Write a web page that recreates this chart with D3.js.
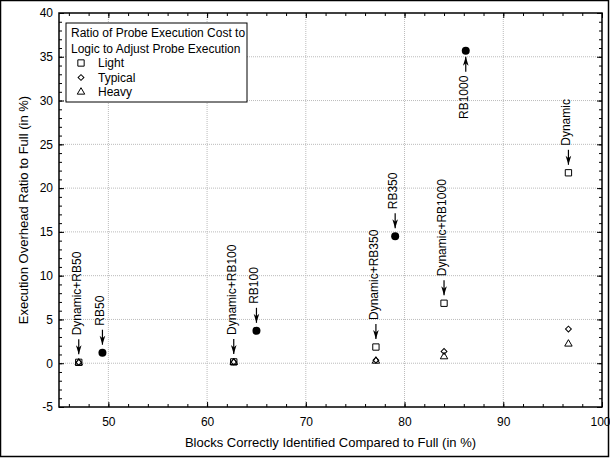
<!DOCTYPE html>
<html>
<head>
<meta charset="utf-8">
<script src="https://cdn.jsdelivr.net/npm/d3@7"></script>
<style>
  body { margin: 0; background: #fff; }
  svg text { font-family: "Liberation Sans", Arial, sans-serif; fill: #000; }
</style>
</head>
<body>
<div id="chart"></div>
<script>
// configurations with dynamic probing (three cost ratios each)
var dynLabels = ["Dynamic+RB50", "Dynamic+RB100", "Dynamic+RB350", "Dynamic+RB1000", "Dynamic"];
var dynBlocks = [47.0, 62.7, 77.1, 84.0, 96.6];
var lightCost = [0.1, 0.15, 1.85, 6.85, 21.75];
var typicalCost = [0.1, 0.15, 0.35, 1.35, 3.9];
var heavyCost = [0.05, 0.1, 0.25, 0.75, 2.2];

// plain random-block configurations
var rbLabels = ["RB50", "RB100", "RB350", "RB1000"];
var rbBlocks = [49.4, 65.0, 79.05, 86.2];
var rbCost = [1.2, 3.7, 14.5, 35.7];

var legendTitle = ["Ratio of Probe Execution Cost to", "Logic to Adjust Probe Execution"];
var legendItems = ["Light", "Typical", "Heavy"];

var xMajor = [50, 60, 70, 80, 90, 100];
var yMajor = [-5, 0, 5, 10, 15, 20, 25, 30, 35, 40];

var W = 610, H = 459;
var margin = {top: 13, right: 8, bottom: 52, left: 59};

var x = d3.scaleLinear().domain([45, 100]).range([margin.left, W - margin.right]);
var y = d3.scaleLinear().domain([-5, 40]).range([H - margin.bottom, margin.top]);

var svg = d3.select("#chart").append("svg")
    .attr("width", W)
    .attr("height", H);

// outer frame
svg.append("rect")
    .attr("x", 0.5).attr("y", 0.5)
    .attr("width", W - 2).attr("height", H - 3)
    .attr("fill", "none").attr("stroke", "#000").attr("stroke-width", 1.5);

// gridlines
var grid = svg.append("g").attr("stroke", "#bbb").attr("stroke-dasharray", "1,1");
grid.selectAll(".gx").data(xMajor.filter(function(d) { return d < 100; }))
    .enter().append("line")
    .attr("x1", function(d) { return x(d); }).attr("x2", function(d) { return x(d); })
    .attr("y1", y.range()[1]).attr("y2", y.range()[0]);
grid.selectAll(".gy").data(yMajor.filter(function(d) { return d > -5 && d < 40; }))
    .enter().append("line")
    .attr("y1", function(d) { return y(d); }).attr("y2", function(d) { return y(d); })
    .attr("x1", x.range()[0]).attr("x2", x.range()[1]);

//
// Axes, ticks pointing inward
//
var xMinor = d3.range(46, 100.1, 2);
var yMinor = d3.range(-5, 40.1, 1);
var bottomY = y.range()[0], topY = y.range()[1];
var leftX = x.range()[0], rightX = x.range()[1];

function minor(axis) { return axis.tickSize(-3).tickFormat(""); }
function plain(d) { return String(d); }   // keep hyphen minus like the original

svg.append("g").attr("transform", "translate(0," + bottomY + ")")
    .call(minor(d3.axisBottom(x).tickValues(xMinor)));
svg.append("g").attr("transform", "translate(0," + topY + ")")
    .call(minor(d3.axisTop(x).tickValues(xMinor)));
svg.append("g").attr("transform", "translate(" + leftX + ",0)")
    .call(minor(d3.axisLeft(y).tickValues(yMinor)));
svg.append("g").attr("transform", "translate(" + rightX + ",0)")
    .call(minor(d3.axisRight(y).tickValues(yMinor)));

var xAxis = svg.append("g").attr("class", "axis")
    .attr("transform", "translate(0," + bottomY + ")")
    .call(d3.axisBottom(x).tickValues(xMajor).tickSize(-5).tickPadding(10).tickFormat(plain));
svg.append("g").attr("class", "axis")
    .attr("transform", "translate(" + leftX + ",0)")
    .call(d3.axisLeft(y).tickValues(yMajor).tickSize(-5).tickPadding(6).tickFormat(plain));
svg.append("g")
    .attr("transform", "translate(0," + topY + ")")
    .call(d3.axisTop(x).tickValues(xMajor).tickSize(-5).tickFormat(""));
svg.append("g")
    .attr("transform", "translate(" + rightX + ",0)")
    .call(d3.axisRight(y).tickValues(yMajor).tickSize(-5).tickFormat(""));

svg.selectAll(".domain").remove();
svg.selectAll(".tick line").attr("stroke", "#000");
svg.selectAll(".axis text").style("font-size", "12px")
    .style("font-family", "Liberation Sans, Arial, sans-serif");
// last label sits at the right edge, pull it in a touch
xAxis.selectAll(".tick text").filter(function(d) { return d === 100; })
    .attr("text-anchor", "end").attr("x", 8);

// plot box
svg.append("rect")
    .attr("x", leftX).attr("y", topY)
    .attr("width", rightX - leftX).attr("height", bottomY - topY)
    .attr("fill", "none").attr("stroke", "#000").attr("stroke-width", 1.5);

// axis titles
svg.append("text")
    .attr("x", (leftX + rightX) / 2).attr("y", 447)
    .attr("text-anchor", "middle").style("font-size", "13px")
    .text("Blocks Correctly Identified Compared to Full (in %)");
svg.append("text")
    .attr("transform", "translate(28," + ((topY + bottomY) / 2) + ") rotate(-90)")
    .attr("text-anchor", "middle").style("font-size", "13px")
    .text("Execution Overhead Ratio to Full (in %)");

//
// Markers (hollow, so overlapping ones stay visible)
//
var sym = {
    square: { d: d3.symbol().type(d3.symbolSquare).size(40)(), rot: 0 },
    diamond: { d: d3.symbol().type(d3.symbolSquare).size(17)(), rot: 45 },
    triangle: { d: d3.symbol().type(d3.symbolTriangle).size(24)(), rot: 0 }
};

function place(px, py, shape) {
    return "translate(" + px + "," + py + ") rotate(" + sym[shape].rot + ")";
}

function drawSeries(values, shape) {
    svg.append("g").selectAll("path")
        .data(values)
        .enter().append("path")
        .attr("transform", function(d, i) { return place(x(dynBlocks[i]), y(d), shape); })
        .attr("d", sym[shape].d)
        .attr("fill", "none")
        .attr("stroke", "#000")
        .attr("stroke-width", 1);
}
drawSeries(heavyCost, "triangle");
drawSeries(typicalCost, "diamond");
drawSeries(lightCost, "square");

svg.append("g").selectAll("circle")
    .data(rbCost)
    .enter().append("circle")
    .attr("cx", function(d, i) { return x(rbBlocks[i]); })
    .attr("cy", function(d) { return y(d); })
    .attr("r", 4)
    .attr("fill", "#000");

//
// Annotations: label + arrow pointing at the point
//
function annotate(label, px, py, up) {
    var dir = up ? 1 : -1;       // +1 means arrow sits below the point
    var tip = py + dir * (up ? 6 : 8);
    var tail = tip + dir * 15;
    var g = svg.append("g");
    g.append("line")
        .attr("x1", px).attr("x2", px)
        .attr("y1", tip).attr("y2", tail)
        .attr("stroke", "#000").attr("stroke-width", 1.2);
    g.append("path")
        .attr("d", "M" + px + "," + tip +
              "L" + (px - 2.8) + "," + (tip + dir * 9) +
              "L" + px + "," + (tip + dir * 6.5) +
              "L" + (px + 2.8) + "," + (tip + dir * 9) + "Z")
        .attr("fill", "#000");
    g.append("text")
        .attr("transform", "translate(" + (px + 2) + "," + (tail + dir * 4) + ") rotate(-90)")
        .attr("text-anchor", up ? "end" : "start")
        .style("font-size", "12px")
        .text(label);
}

dynLabels.forEach(function(l, i) {
    annotate(l, x(dynBlocks[i]), y(lightCost[i]), false);
});
rbLabels.forEach(function(l, i) {
    annotate(l, x(rbBlocks[i]), y(rbCost[i]), rbCost[i] > 30);
});

//
// Legend
//
var lg = svg.append("g").attr("transform", "translate(66,23)");
lg.append("rect")
    .attr("width", 181).attr("height", 79)
    .attr("fill", "#fff").attr("stroke", "#000").attr("stroke-width", 1);
legendTitle.forEach(function(t, i) {
    lg.append("text").attr("x", 5).attr("y", 14 + i * 15.5)
        .style("font-size", "12px").text(t);
});
var shapes = ["square", "diamond", "triangle"];
legendItems.forEach(function(t, i) {
    var cy = 40 + i * 14.5;
    lg.append("path")
        .attr("transform", place(15, cy, shapes[i]))
        .attr("d", sym[shapes[i]].d)
        .attr("fill", "none").attr("stroke", "#000");
    lg.append("text").attr("x", 32).attr("y", cy + 4)
        .style("font-size", "12px").text(t);
});
</script>
</body>
</html>
